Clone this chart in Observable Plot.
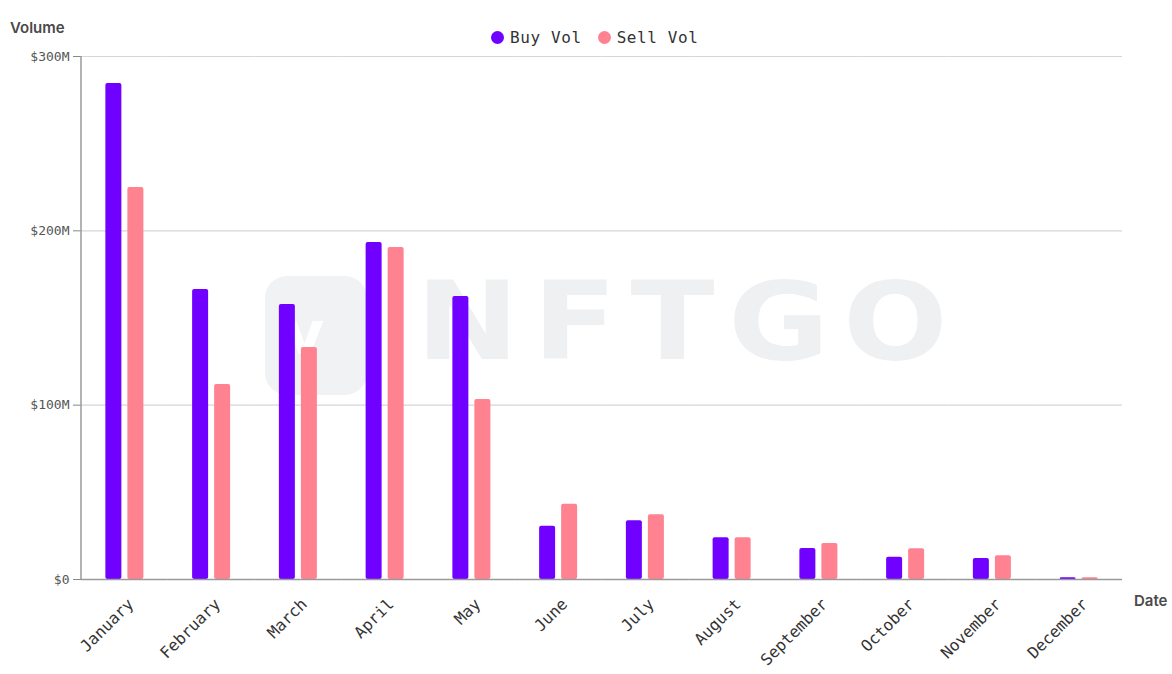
<!DOCTYPE html>
<html>
<head>
<meta charset="utf-8">
<script src="https://cdn.jsdelivr.net/npm/d3@7"></script>
<script src="https://cdn.jsdelivr.net/npm/@observablehq/plot@0.6"></script>
<style>
  html, body { margin: 0; padding: 0; background: #fff; }
  #wrap { position: relative; width: 1172px; height: 674px; overflow: hidden; }
  #wm { position: absolute; left: 0; top: 0; width: 1172px; height: 674px; z-index: 0; }
  #wm .sq { position: absolute; left: 265px; top: 276px; width: 102px; height: 119px; border-radius: 22px; background: #f1f2f4; }
  #wm .sq span { position: absolute; left: 20px; top: 22px; font: 700 60px "DejaVu Sans", sans-serif; color: #fff; }
  #wm .txt { position: absolute; left: 416px; top: 268px; font: 700 108px "DejaVu Sans", sans-serif; color: #eef0f2; letter-spacing: 12px; line-height: 1; transform: scaleX(1.14); transform-origin: left top; }
  #chart { position: absolute; left: 0; top: 0; z-index: 1; }
  .lbl { position: absolute; z-index: 2; font-family: Inter, "Noto Sans", sans-serif; font-weight: 600; font-size: 15px; color: #4a4a4a; }
  #legend { position: absolute; z-index: 2; left: 491px; top: 28px; display: flex; align-items: center; font-family: "DejaVu Sans Mono", monospace; font-size: 16px; letter-spacing: 0.6px; color: #333; }
  #legend .it { display: flex; align-items: center; margin-right: 16px; }
  #legend .sw { width: 13px; height: 13px; border-radius: 50%; margin-right: 6px; }
</style>
</head>
<body>
<div id="wrap">
  <div id="wm"><div class="sq"><span>v</span></div><div class="txt">NFTGO</div></div>
  <div id="chart"></div>
  <div class="lbl" style="left:10px; top:18px;">Volume</div>
  <div class="lbl" style="left:1134px; top:591px;">Date</div>
  <div id="legend"></div>
</div>
<script>
const months = ["January","February","March","April","May","June","July","August","September","October","November","December"];
const series = ["Buy Vol","Sell Vol"];
const colors = ["#7000ff","#ff8291"];
const buyVol  = [284.5, 166.4, 157.7, 193.3, 162.3, 30.6, 33.7, 23.9, 17.8, 12.8, 12.0, 1.0];
const sellVol = [224.9, 111.9, 133.1, 190.4, 103.3, 43.2, 37.1, 23.9, 20.7, 17.6, 13.6, 1.0];
const yTicks = [0, 100, 200, 300];

const data = months.flatMap((m, i) => [
  {month: m, series: series[0], value: buyVol[i]},
  {month: m, series: series[1], value: sellVol[i]}
]);

const mono = "DejaVu Sans Mono, monospace";
const marginLeft = 81;

const plot = Plot.plot({
  width: 1172,
  height: 674,
  marginTop: 56,
  marginLeft: marginLeft,
  marginRight: 50,
  marginBottom: 95,
  style: {background: "transparent"},
  fx: {domain: months, padding: 0, round: false, label: null},
  x: {domain: series, paddingInner: 0.273, paddingOuter: 1.107, round: false, axis: null},
  y: {domain: [0, 300], label: null},
  color: {domain: series, range: colors},
  marks: [
    Plot.gridY(yTicks, {stroke: "#d6d6d6", strokeOpacity: 1, strokeWidth: 1.2}),
    Plot.barY(data, {fx: "month", x: "series", y: "value", fill: "series", rx: 2}),
    Plot.ruleY([0], {stroke: "#9a9a9a", strokeWidth: 1.5}),
    Plot.axisY(yTicks, {tickFormat: d => d === 0 ? "$0" : `$${d}M`, tickSize: 8, tickPadding: 4, fontSize: 13, fontFamily: mono, color: "#555", stroke: "#888", label: null}),
    Plot.axisFx({anchor: "bottom", tickRotate: -45, tickSize: 0, tickPadding: 22, dx: 6, fontSize: 16, fontFamily: mono, color: "#333", label: null})
  ]
});

const ys = plot.scale("y");
d3.select(plot).append("line")
  .attr("x1", marginLeft).attr("x2", marginLeft)
  .attr("y1", ys.apply(yTicks[0])).attr("y2", ys.apply(yTicks[yTicks.length - 1]))
  .attr("stroke", "#9a9a9a").attr("stroke-width", 1.5);

document.getElementById("chart").appendChild(plot);

const legend = document.getElementById("legend");
series.forEach((s, i) => {
  const it = document.createElement("div");
  it.className = "it";
  it.innerHTML = `<span class="sw" style="background:${colors[i]}"></span><span>${s}</span>`;
  legend.appendChild(it);
});
</script>
</body>
</html>
